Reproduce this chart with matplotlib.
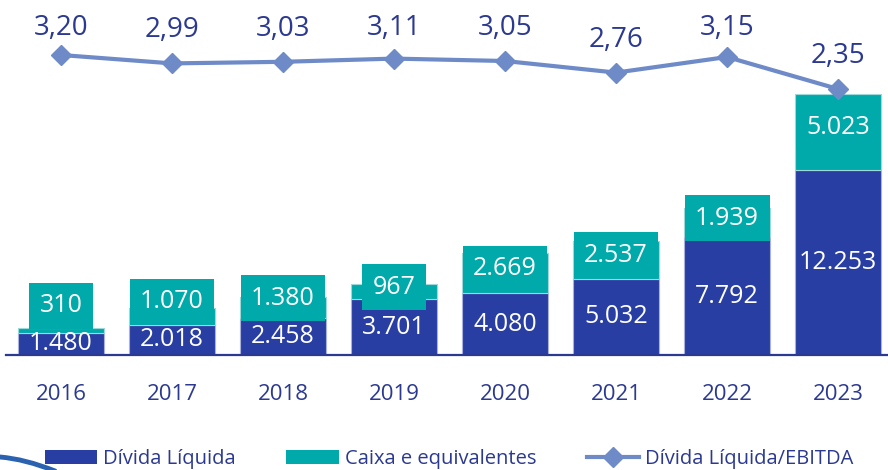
import matplotlib
matplotlib.use("Agg")
import matplotlib.pyplot as plt
from matplotlib.patches import Patch, PathPatch
from matplotlib.lines import Line2D
from matplotlib.path import Path

years = ["2016", "2017", "2018", "2019", "2020", "2021", "2022", "2023"]
divida_liquida = [1480, 2018, 2458, 3701, 4080, 5032, 7792, 12253]
caixa = [310, 1070, 1380, 967, 2669, 2537, 1939, 5023]
divida_ebitda = [3.20, 2.99, 3.03, 3.11, 3.05, 2.76, 3.15, 2.35]

BLUE = "#283EA3"
TEAL = "#00AAAA"
LINE = "#6E8BC8"
DARK = "#2B3990"
FONT = "Open Sans"

def fmt_int(v):
    return f"{v:,}".replace(",", ".")

def fmt_ratio(v):
    return f"{v:.2f}".replace(".", ",")

W, H = 888, 470
fig = plt.figure(figsize=(W / 100, H / 100), dpi=100)
ax = fig.add_axes([6 / W, 115 / H, 882 / W, 335 / H])
x = list(range(len(years)))

ax.bar(x, divida_liquida, width=0.775, color=BLUE, edgecolor="#A9B2DE", linewidth=0.8, zorder=2)
ax.bar(x, caixa, width=0.775, bottom=divida_liquida, color=TEAL, edgecolor="#9ED8D8", linewidth=0.8, zorder=2)

ax.set_xlim(-0.495, 7.45)
ax.set_ylim(0, 22170)
for s in ["top", "right", "left"]:
    ax.spines[s].set_visible(False)
ax.spines["bottom"].set_color(DARK)
ax.spines["bottom"].set_linewidth(1.6)
ax.spines["bottom"].set_zorder(5)
ax.set_yticks([])
ax.set_xticks(x)
ax.set_xticklabels(years, fontsize=16, color=DARK, family=FONT)
ax.tick_params(axis="x", length=0, pad=21)

for i in x:
    d = divida_liquida[i]
    c = caixa[i]
    yb = max(d / 2, 600)
    ax.text(i, yb, fmt_int(d), ha="center", va="center", fontsize=18, color="white",
            family=FONT, zorder=4)
    yc = max(d + c / 2 + 300, yb + 2515)
    ax.text(i, yc, fmt_int(c), ha="center", va="center", fontsize=18, color="white",
            family=FONT, zorder=4,
            bbox=dict(boxstyle="square,pad=0.42", facecolor=TEAL, edgecolor="none"))

ax2 = ax.twinx()
ax2.set_ylim(-4.3, 4.075)
ax2.axis("off")
ax2.plot(x, divida_ebitda, color=LINE, linewidth=3, marker="D", markersize=10, zorder=3)
for i in x:
    r = divida_ebitda[i]
    ax2.text(i, min(r + 0.65, 3.69), fmt_ratio(r), ha="center", va="baseline",
             fontsize=20, color=DARK, family=FONT)

handles = [
    Patch(facecolor=BLUE, edgecolor="none", label="Dívida Líquida"),
    Patch(facecolor=TEAL, edgecolor="none", label="Caixa e equivalentes"),
    Line2D([0], [0], color=LINE, linewidth=3, marker="D", markersize=10, label="Dívida Líquida/EBITDA"),
]
leg = fig.legend(handles=handles, loc="center left", bbox_to_anchor=(45 / W, 1 - 459 / H),
                 ncol=3, frameon=False, prop={"family": FONT, "size": 14.5},
                 handlelength=2.6, handleheight=0.75, handletextpad=0.3,
                 columnspacing=2.5, borderpad=0, borderaxespad=0)
for t in leg.get_texts():
    t.set_color(DARK)

# decorative swoosh fragment at the bottom-left corner
verts = [(0 / W, 1 - 457 / H), (25 / W, 1 - 459 / H), (55 / W, 1 - 471 / H)]
swoosh = PathPatch(Path(verts, [Path.MOVETO, Path.CURVE3, Path.CURVE3]),
                   transform=fig.transFigure, facecolor="none", edgecolor="#2A62B0",
                   linewidth=3.5, capstyle="round")
fig.add_artist(swoosh)

fig.savefig("out.png", dpi=100)
